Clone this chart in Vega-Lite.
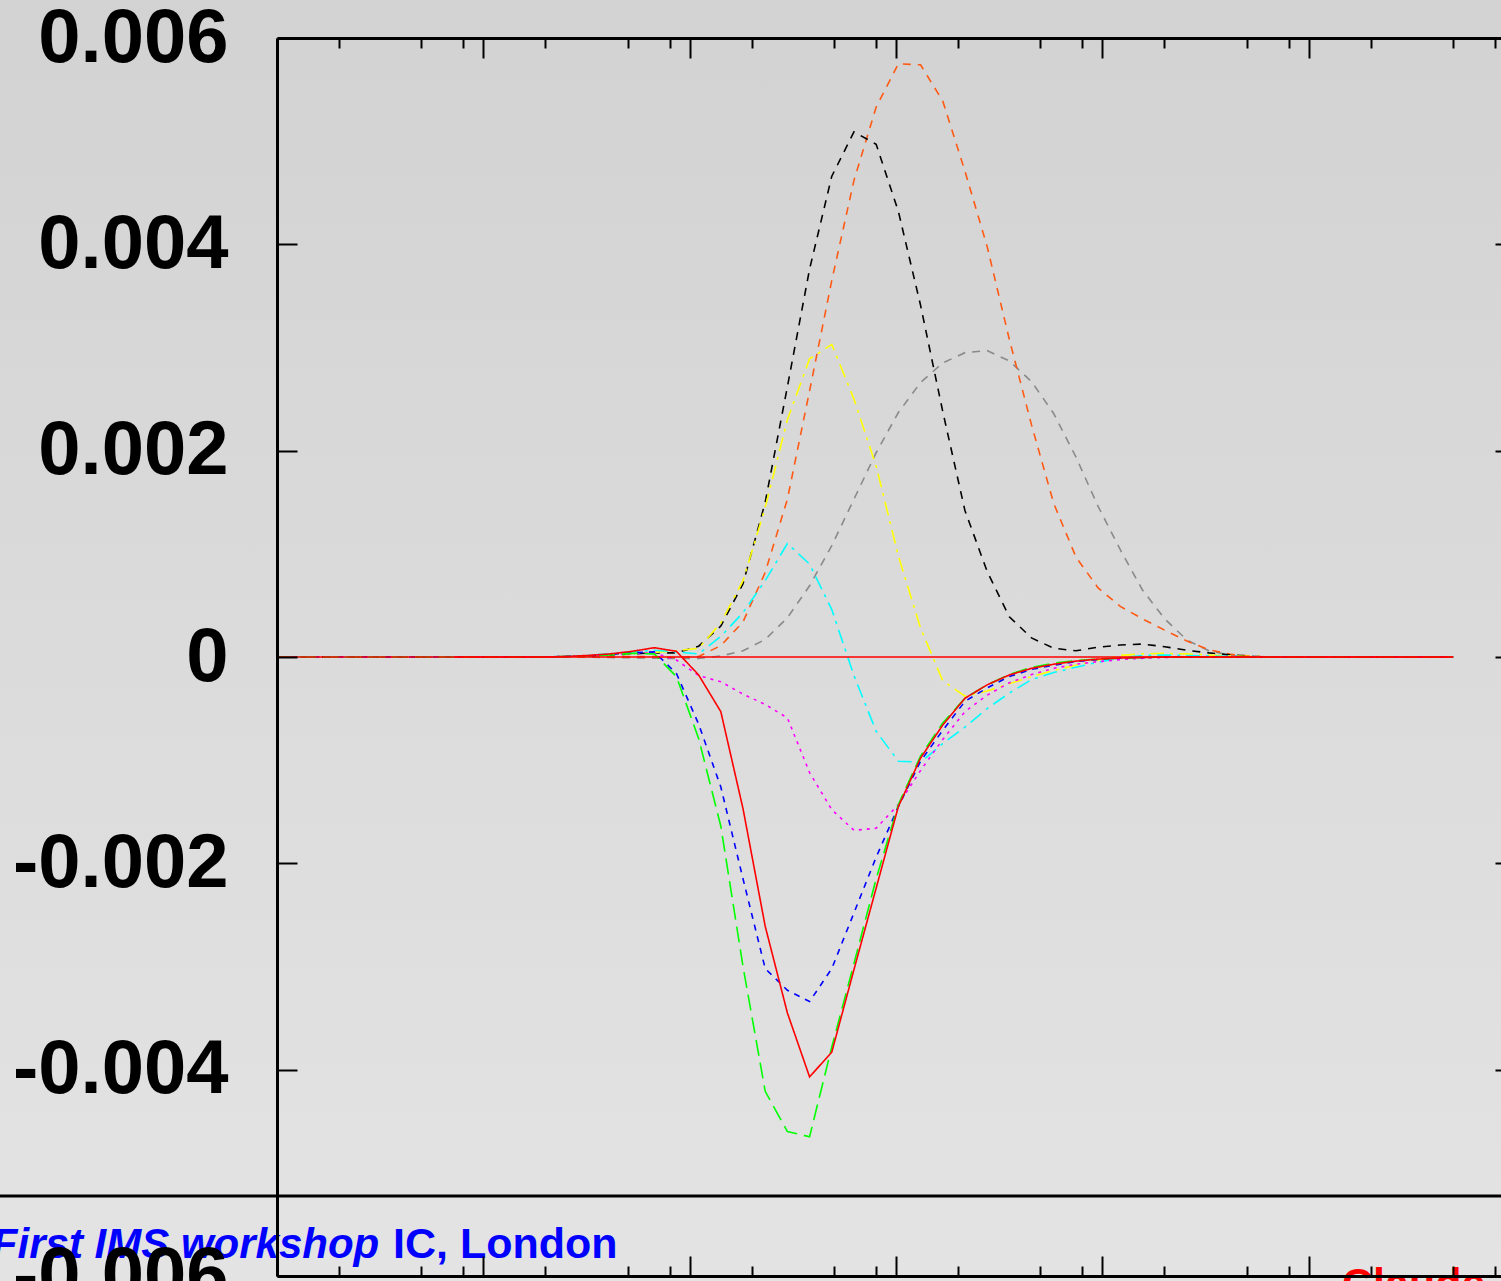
{
  "$schema": "https://vega.github.io/schema/vega-lite/v6.json",
  "width": 1238,
  "height": 1238,
  "autosize": {"type": "none"},
  "padding": {"left": 277, "top": 38, "right": -14, "bottom": 5},
  "background": "#dadada",
  "config": {"view": {"stroke": null}, "font": "Liberation Sans"},
  "resolve": {"axis": {"x": "independent", "y": "independent"}},
  "layer": [
    {
      "data": {"values": [{"x0": 0.02, "x1": 5000000, "ya": 0.0066, "yb": -0.0064}]},
      "mark": {"type": "rect", "clip": false, "fill": {"gradient": "linear", "x1": 0, "y1": 0, "x2": 0, "y2": 1, "stops": [{"offset": 0, "color": "#d2d2d2"}, {"offset": 1, "color": "#e4e4e4"}]}},
      "encoding": {
        "x": {"field": "x0", "type": "quantitative", "scale": {"type": "log", "domain": [1, 1000000], "nice": false},
          "axis": {"orient": "top", "title": null, "labels": false, "grid": false, "zindex": 1, "domainColor": "#000000", "domainWidth": 3, "tickColor": "#000000", "tickWidth": 2,
            "values": [1,2,5,8,10,20,50,80,100,200,500,800,1000,2000,5000,8000,10000,20000,50000,80000,100000,200000,500000,800000,1000000],
            "tickSize": {"condition": {"test": "abs(log(datum.value)/LN10 - round(log(datum.value)/LN10)) < 0.001", "value": -20}, "value": -10}}},
        "x2": {"field": "x1"},
        "y": {"field": "ya", "type": "quantitative", "scale": {"domain": [-0.006, 0.006], "nice": false, "zero": false},
          "axis": {"orient": "right", "title": null, "labels": false, "grid": false, "zindex": 1, "domainColor": "#000000", "domainWidth": 3, "tickColor": "#000000", "tickWidth": 2, "tickSize": -20,
            "values": [-0.006, -0.004, -0.002, 0, 0.002, 0.004, 0.006]}},
        "y2": {"field": "yb"}
      }
    },
    {
      "data": {"values": [
        {"x":1,"red":0,"green":0,"blue":0,"magenta":0,"cyan":0,"yellow":0,"black":0,"orange":0,"gray":0},
        {"x":1.2810,"red":0,"green":0,"blue":0,"magenta":0,"cyan":0,"yellow":0,"black":0,"orange":0,"gray":0},
        {"x":1.6410,"red":0,"green":0,"blue":0,"magenta":0,"cyan":0,"yellow":0,"black":0,"orange":0,"gray":0},
        {"x":2.1022,"red":0,"green":0,"blue":0,"magenta":0,"cyan":0,"yellow":0,"black":0,"orange":0,"gray":0},
        {"x":2.6928,"red":0,"green":0,"blue":0,"magenta":0,"cyan":0,"yellow":0,"black":0,"orange":0,"gray":0},
        {"x":3.4494,"red":0,"green":0,"blue":0,"magenta":0,"cyan":0,"yellow":0,"black":0,"orange":0,"gray":0},
        {"x":4.4188,"red":0,"green":0,"blue":0,"magenta":0,"cyan":0,"yellow":0,"black":0,"orange":0,"gray":0},
        {"x":5.6604,"red":0,"green":0,"blue":0,"magenta":0,"cyan":0,"yellow":0,"black":0,"orange":0,"gray":0},
        {"x":7.2510,"red":0,"green":0,"blue":0,"magenta":0,"cyan":0,"yellow":0,"black":0,"orange":0,"gray":0},
        {"x":9.2885,"red":0,"green":0,"blue":0,"magenta":0,"cyan":0,"yellow":0,"black":0,"orange":0,"gray":0},
        {"x":11.899,"red":0,"green":0,"blue":0,"magenta":0,"cyan":0,"yellow":0,"black":0,"orange":0,"gray":0},
        {"x":15.242,"red":0,"green":0,"blue":0,"magenta":0,"cyan":0,"yellow":0,"black":0,"orange":0,"gray":0},
        {"x":19.526,"red":0,"green":0,"blue":0,"magenta":0,"cyan":0,"yellow":0,"black":0,"orange":0,"gray":0},
        {"x":25.012,"red":0.000005,"green":0.000005,"blue":0.000005,"magenta":0.000005,"cyan":0.000005,"yellow":0.000005,"black":0.000005,"orange":0,"gray":0},
        {"x":32.04,"red":0.000015,"green":0.00001,"blue":0.00001,"magenta":0.00001,"cyan":0.000015,"yellow":0.00001,"black":0.00001,"orange":0.000002,"gray":-0.000002},
        {"x":41.04,"red":0.00003,"green":0.00002,"blue":0.000025,"magenta":0.00002,"cyan":0.00003,"yellow":0.00002,"black":0.00002,"orange":0.000003,"gray":-0.000005},
        {"x":52.58,"red":0.000055,"green":0.000035,"blue":0.00004,"magenta":0.000035,"cyan":0.00005,"yellow":0.000035,"black":0.00003,"orange":0.000005,"gray":-0.000008},
        {"x":67.35,"red":0.00009,"green":0.00003,"blue":0.00005,"magenta":0.00004,"cyan":0.000065,"yellow":0.000045,"black":0.00004,"orange":0.000005,"gray":-0.000012},
        {"x":86.28,"red":0.000055,"green":-0.00019,"blue":-0.00016,"magenta":-0.00003,"cyan":0.00005,"yellow":0.00006,"black":0.00004,"orange":-0.000005,"gray":-0.000015},
        {"x":110.52,"red":-0.000174,"green":-0.00079,"blue":-0.00065,"magenta":-0.00018,"cyan":0.00003,"yellow":0.000085,"black":0.000105,"orange":0.000005,"gray":-0.000013},
        {"x":141.58,"red":-0.00053,"green":-0.00164,"blue":-0.00126,"magenta":-0.00024,"cyan":0.0002,"yellow":0.00033,"black":0.0003,"orange":0.00011,"gray":0.00001},
        {"x":181.36,"red":-0.00147,"green":-0.003,"blue":-0.00215,"magenta":-0.00036,"cyan":0.00043,"yellow":0.00074,"black":0.00071,"orange":0.00034,"gray":0.00006},
        {"x":232.33,"red":-0.00261,"green":-0.00421,"blue":-0.00302,"magenta":-0.00046,"cyan":0.00074,"yellow":0.00145,"black":0.0015,"orange":0.00082,"gray":0.00017},
        {"x":297.6,"red":-0.00345,"green":-0.0046,"blue":-0.00323,"magenta":-0.00059,"cyan":0.0011,"yellow":0.0023,"black":0.00262,"orange":0.00153,"gray":0.00038},
        {"x":381.2,"red":-0.00407,"green":-0.00465,"blue":-0.00334,"magenta":-0.00112,"cyan":0.0009,"yellow":0.00289,"black":0.00376,"orange":0.00258,"gray":0.00069},
        {"x":488.4,"red":-0.00383,"green":-0.00378,"blue":-0.00302,"magenta":-0.00148,"cyan":0.00046,"yellow":0.00303,"black":0.00466,"orange":0.00365,"gray":0.00108},
        {"x":625.6,"red":-0.00303,"green":-0.00297,"blue":-0.00248,"magenta":-0.00168,"cyan":-0.00018,"yellow":0.0025,"black":0.00509,"orange":0.00462,"gray":0.00153},
        {"x":801.4,"red":-0.00224,"green":-0.00215,"blue":-0.00194,"magenta":-0.00166,"cyan":-0.00072,"yellow":0.00185,"black":0.00497,"orange":0.00533,"gray":0.00198},
        {"x":1026.6,"red":-0.00145,"green":-0.00143,"blue":-0.00145,"magenta":-0.00143,"cyan":-0.00101,"yellow":0.00098,"black":0.00432,"orange":0.00575,"gray":0.00237},
        {"x":1315.1,"red":-0.00098,"green":-0.00096,"blue":-0.00101,"magenta":-0.0011,"cyan":-0.00102,"yellow":0.00028,"black":0.00341,"orange":0.00574,"gray":0.00266},
        {"x":1684.7,"red":-0.00066,"green":-0.00064,"blue":-0.00071,"magenta":-0.0008,"cyan":-0.00084,"yellow":-0.00023,"black":0.00238,"orange":0.00539,"gray":0.00285},
        {"x":2158,"red":-0.0004,"green":-0.0004,"blue":-0.00043,"magenta":-0.00053,"cyan":-0.00068,"yellow":-0.00038,"black":0.00142,"orange":0.00471,"gray":0.00295},
        {"x":2764.5,"red":-0.00027,"green":-0.00027,"blue":-0.0003,"magenta":-0.00037,"cyan":-0.0005,"yellow":-0.00033,"black":0.00083,"orange":0.00398,"gray":0.00297},
        {"x":3541,"red":-0.000174,"green":-0.00017,"blue":-0.00019,"magenta":-0.00025,"cyan":-0.00035,"yellow":-0.00026,"black":0.00039,"orange":0.00308,"gray":0.00287},
        {"x":4536,"red":-0.00011,"green":-0.0001,"blue":-0.00012,"magenta":-0.00017,"cyan":-0.00022,"yellow":-0.00019,"black":0.000185,"orange":0.00225,"gray":0.00267},
        {"x":5811,"red":-0.00007,"green":-0.00006,"blue":-0.00008,"magenta":-0.00011,"cyan":-0.00015,"yellow":-0.00013,"black":0.000085,"orange":0.00149,"gray":0.00236},
        {"x":7444,"red":-0.00004,"green":-0.000035,"blue":-0.000045,"magenta":-0.00007,"cyan":-0.0001,"yellow":-0.00008,"black":0.00006,"orange":0.00097,"gray":0.00194},
        {"x":9536,"red":-0.00002,"green":-0.00002,"blue":-0.000025,"magenta":-0.000045,"cyan":-0.00005,"yellow":-0.00003,"black":0.000095,"orange":0.00067,"gray":0.00146},
        {"x":12216,"red":-0.00001,"green":-0.00001,"blue":-0.000012,"magenta":-0.000025,"cyan":-0.00001,"yellow":0.000015,"black":0.000116,"orange":0.00049,"gray":0.00104},
        {"x":15648,"red":-0.000005,"green":-0.000005,"blue":-0.000005,"magenta":-0.000012,"cyan":0.000015,"yellow":0.00003,"black":0.000125,"orange":0.00037,"gray":0.00065},
        {"x":20045,"red":0,"green":0,"blue":0,"magenta":-0.000005,"cyan":0.00002,"yellow":0.000035,"black":0.0001,"orange":0.00026,"gray":0.00037},
        {"x":25677,"red":0,"green":0,"blue":0,"magenta":0,"cyan":0.000015,"yellow":0.00003,"black":0.000065,"orange":0.000155,"gray":0.000165},
        {"x":32893,"red":0,"green":0,"blue":0,"magenta":0,"cyan":0.00001,"yellow":0.00002,"black":0.00004,"orange":0.00007,"gray":0.00006},
        {"x":42136,"red":0,"green":0,"blue":0,"magenta":0,"cyan":0.000005,"yellow":0.00001,"black":0.00002,"orange":0.000025,"gray":0.000015},
        {"x":53976,"red":0,"green":0,"blue":0,"magenta":0,"cyan":0,"yellow":0.000005,"black":0.000005,"orange":0.000005,"gray":0},
        {"x":69144,"red":0,"green":0,"blue":0,"magenta":0,"cyan":0,"yellow":0,"black":0,"orange":0,"gray":0},
        {"x":88574,"red":0,"green":0,"blue":0,"magenta":0,"cyan":0,"yellow":0,"black":0,"orange":0,"gray":0},
        {"x":113465,"red":0,"green":0,"blue":0,"magenta":0,"cyan":0,"yellow":0,"black":0,"orange":0,"gray":0},
        {"x":145346,"red":0,"green":0,"blue":0,"magenta":0,"cyan":0,"yellow":0,"black":0,"orange":0,"gray":0},
        {"x":186191,"red":0,"green":0,"blue":0,"magenta":0,"cyan":0,"yellow":0,"black":0,"orange":0,"gray":0},
        {"x":238505,"red":0,"green":0,"blue":0,"magenta":0,"cyan":0,"yellow":0,"black":0,"orange":0,"gray":0},
        {"x":305530,"red":0,"green":0,"blue":0,"magenta":0,"cyan":0,"yellow":0,"black":0,"orange":0,"gray":0},
        {"x":391380,"red":0,"green":0,"blue":0,"magenta":0,"cyan":0,"yellow":0,"black":0,"orange":0,"gray":0},
        {"x":501370,"red":0,"green":0,"blue":0,"magenta":0,"cyan":0,"yellow":0,"black":0,"orange":0,"gray":0}
      ]},
      "transform": [{"fold": ["gray", "orange", "black", "yellow", "cyan", "magenta", "blue", "green", "red"], "as": ["s", "v"]}],
      "mark": {"type": "line", "strokeWidth": 1.6},
      "encoding": {
        "x": {"field": "x", "type": "quantitative", "scale": {"type": "log", "domain": [1, 1000000], "nice": false},
          "axis": {"orient": "bottom", "title": null, "labels": false, "grid": false, "zindex": 1, "domainColor": "#000000", "domainWidth": 3, "tickColor": "#000000", "tickWidth": 2,
            "values": [1,2,5,8,10,20,50,80,100,200,500,800,1000,2000,5000,8000,10000,20000,50000,80000,100000,200000,500000,800000,1000000],
            "tickSize": {"condition": {"test": "abs(log(datum.value)/LN10 - round(log(datum.value)/LN10)) < 0.001", "value": -20}, "value": -10}}},
        "y": {"field": "v", "type": "quantitative", "scale": {"domain": [-0.006, 0.006], "nice": false, "zero": false},
          "axis": {"orient": "left", "title": null, "grid": false, "zindex": 1, "domainColor": "#000000", "domainWidth": 3, "tickColor": "#000000", "tickWidth": 2, "tickSize": -20,
            "values": [-0.006, -0.004, -0.002, 0, 0.002, 0.004, 0.006],
            "labelExpr": "(datum.value < 0 ? '-' : '') + format(abs(datum.value), '~g')",
            "labelFont": "Liberation Sans", "labelFontWeight": "bold", "labelFontSize": 76, "labelColor": "#000000", "labelPadding": 69, "labelLimit": 0, "labelOverlap": false}},
        "color": {"field": "s", "type": "nominal", "legend": null,
          "scale": {"domain": ["gray", "orange", "black", "yellow", "cyan", "magenta", "blue", "green", "red"],
            "range": ["#8a8a8a", "#ff5a14", "#000000", "#ffff00", "#00ffff", "#ff00ff", "#0000ff", "#00ff00", "#ff0000"]}},
        "strokeDash": {"field": "s", "type": "nominal", "legend": null,
          "scale": {"domain": ["gray", "orange", "black", "yellow", "cyan", "magenta", "blue", "green", "red"],
            "range": [[8, 7], [8, 7], [8, 7], [14, 6, 3, 6], [14, 6, 3, 6], [3, 5], [6, 6], [16, 7], [1, 0]]}},
        "order": {"field": "x", "type": "quantitative"}
      }
    },
    {
      "data": {"values": [{"x": 7.251, "v": 0}, {"x": 501370, "v": 0}]},
      "mark": {"type": "line", "color": "#ff0000", "strokeWidth": 1.6},
      "encoding": {
        "x": {"field": "x", "type": "quantitative", "axis": null},
        "y": {"field": "v", "type": "quantitative", "axis": null}
      }
    },
    {
      "data": {"values": [{"xa": 0.02, "xb": 5000000, "v": -0.005225}]},
      "mark": {"type": "rule", "color": "#000000", "strokeWidth": 3, "clip": false},
      "encoding": {
        "x": {"field": "xa", "type": "quantitative", "axis": null},
        "x2": {"field": "xb"},
        "y": {"field": "v", "type": "quantitative", "axis": null}
      }
    },
    {
      "data": {"values": [{"x": 0.0415, "v": -0.005825, "t": "First IMS workshop"}]},
      "mark": {"type": "text", "align": "left", "baseline": "alphabetic", "font": "Liberation Sans", "fontStyle": "italic", "fontWeight": "bold", "fontSize": 42, "color": "#0000ff"},
      "encoding": {
        "x": {"field": "x", "type": "quantitative", "axis": null},
        "y": {"field": "v", "type": "quantitative", "axis": null},
        "text": {"field": "t"}
      }
    },
    {
      "data": {"values": [{"x": 3.649, "v": -0.005825, "t": "IC, London"}]},
      "mark": {"type": "text", "align": "left", "baseline": "alphabetic", "font": "Liberation Sans", "fontWeight": "bold", "fontSize": 43, "color": "#0000ff"},
      "encoding": {
        "x": {"field": "x", "type": "quantitative", "axis": null},
        "y": {"field": "v", "type": "quantitative", "axis": null},
        "text": {"field": "t"}
      }
    },
    {
      "data": {"values": [{"x": 145100, "v": -0.006218, "t": "Claude"}]},
      "mark": {"type": "text", "align": "left", "baseline": "alphabetic", "font": "Liberation Sans", "fontWeight": "bold", "fontSize": 43, "color": "#ff0000"},
      "encoding": {
        "x": {"field": "x", "type": "quantitative", "axis": null},
        "y": {"field": "v", "type": "quantitative", "axis": null},
        "text": {"field": "t"}
      }
    }
  ]
}
